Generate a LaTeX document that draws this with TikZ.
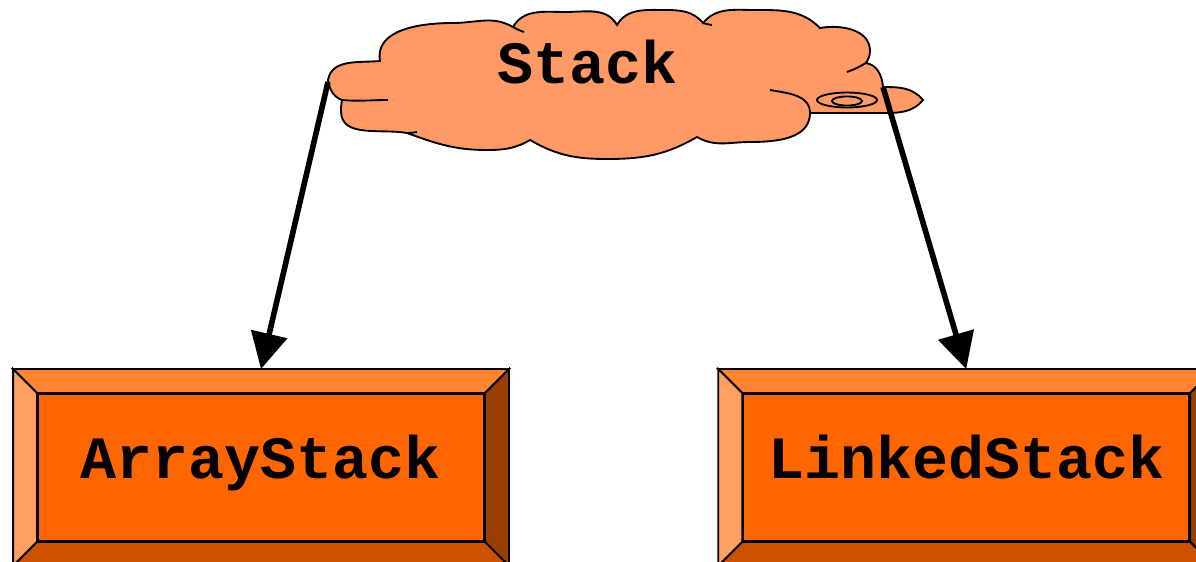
\documentclass[tikz,border=0pt]{standalone}
\usepackage{fontspec}
\setmonofont{Liberation Mono}
\usepackage{tikz}
\usetikzlibrary{positioning,arrows.meta}

\definecolor{cloudfill}{HTML}{FF9966}
\definecolor{faceorange}{HTML}{FF6600}
\definecolor{beveltop}{HTML}{FF8533}
\definecolor{bevelleft}{HTML}{FFA060}
\definecolor{bevelright}{HTML}{993D00}
\definecolor{bevelbottom}{HTML}{CC5200}

% raised frame round a class box
\newcommand{\bevel}[1]{%
  \filldraw[fill=beveltop] (#1.north west) -- (#1.north east)
    -- ++(18pt,18pt) -- ([shift={(-18pt,18pt)}]#1.north west) -- cycle;
  \filldraw[fill=bevelleft] (#1.north west) -- (#1.south west)
    -- ++(-18pt,-18pt) -- ([shift={(-18pt,18pt)}]#1.north west) -- cycle;
  \filldraw[fill=bevelright] (#1.north east) -- (#1.south east)
    -- ++(18pt,-18pt) -- ([shift={(18pt,18pt)}]#1.north east) -- cycle;
  \filldraw[fill=bevelbottom] (#1.south west) -- (#1.south east)
    -- ++(18pt,-18pt) -- ([shift={(-18pt,-18pt)}]#1.south west) -- cycle;
}

\begin{document}
\begin{tikzpicture}[x=0.75pt, y=0.75pt, line width=1.4pt,
    classfont/.style={font=\ttfamily\bfseries\fontsize{45}{54}\selectfont},
    classbox/.style={draw, fill=faceorange, classfont, inner sep=0pt,
      minimum width=334.5pt, minimum height=110.25pt,
      text height=27pt, text depth=11.25pt},
    isa/.style={line width=4.2pt, -{Triangle[length=27pt,width=27pt]}}]
  \useasboundingbox (0,0) rectangle (1196,561);
  \clip (0,0) rectangle (1196,561);

  % the interface
  \filldraw[fill=cloudfill]
    (342,461) to[out=160,in=-80] (328,481) to[out=80,in=185] (380,500)
    to[out=100,in=180] (453,538) to[out=0,in=150] (513,534)
    to[out=60,in=180] (565,549) to[out=0,in=120] (617,536)
    to[out=60,in=180] (665,551) to[out=0,in=130] (703,538)
    to[out=50,in=180] (755,551) to[out=0,in=135] (820,533)
    to[out=10,in=90] (870,510) to[out=-90,in=60] (866,498)
    to[out=-10,in=95] (883,474)
    to[out=0,in=130] (923,461)
    to[out=-130,in=0] (880,448) to[out=180,in=0] (810,448)
    to[out=-90,in=0] (750,419) to[out=180,in=-30] (697,424)
    to[out=-150,in=0] (607,402) to[out=180,in=-30] (530,421)
    to[out=-150,in=0] (487,411) to[out=180,in=-20] (407,428)
    to[out=170,in=-90] (341,450) to[out=90,in=-100] cycle;
  \draw (342,461) to[out=-5,in=180] (388,461);
  \draw (407,428) to[out=-10,in=180] (417,429);
  \draw (513,534) to[out=-30,in=160] (524,529);
  \draw (703,538) to[out=-20,in=170] (712,536);
  \draw (866,498) to[out=-150,in=20] (847,489);
  \draw (770,471) to[out=-10,in=90] (810,448);
  \draw (847,461) ellipse [x radius=22.5pt, y radius=5.6pt];
  \draw (847,460) ellipse [x radius=11.25pt, y radius=3.4pt];
  \node[classfont, anchor=base] (stack) at (588,477) {Stack};

  % the classes
  \node[classbox] (array) at (261,93.5) {ArrayStack};
  \node[classbox, right=193pt of array] (linked) {LinkedStack};
  \bevel{array}
  \bevel{linked}

  \coordinate (cloudL) at (328,479);
  \coordinate (cloudR) at (883,474);
  \draw[isa] (cloudL) -- ([yshift=18pt]array.north);
  \draw[isa] (cloudR) -- ([yshift=18pt]linked.north);
\end{tikzpicture}
\end{document}
